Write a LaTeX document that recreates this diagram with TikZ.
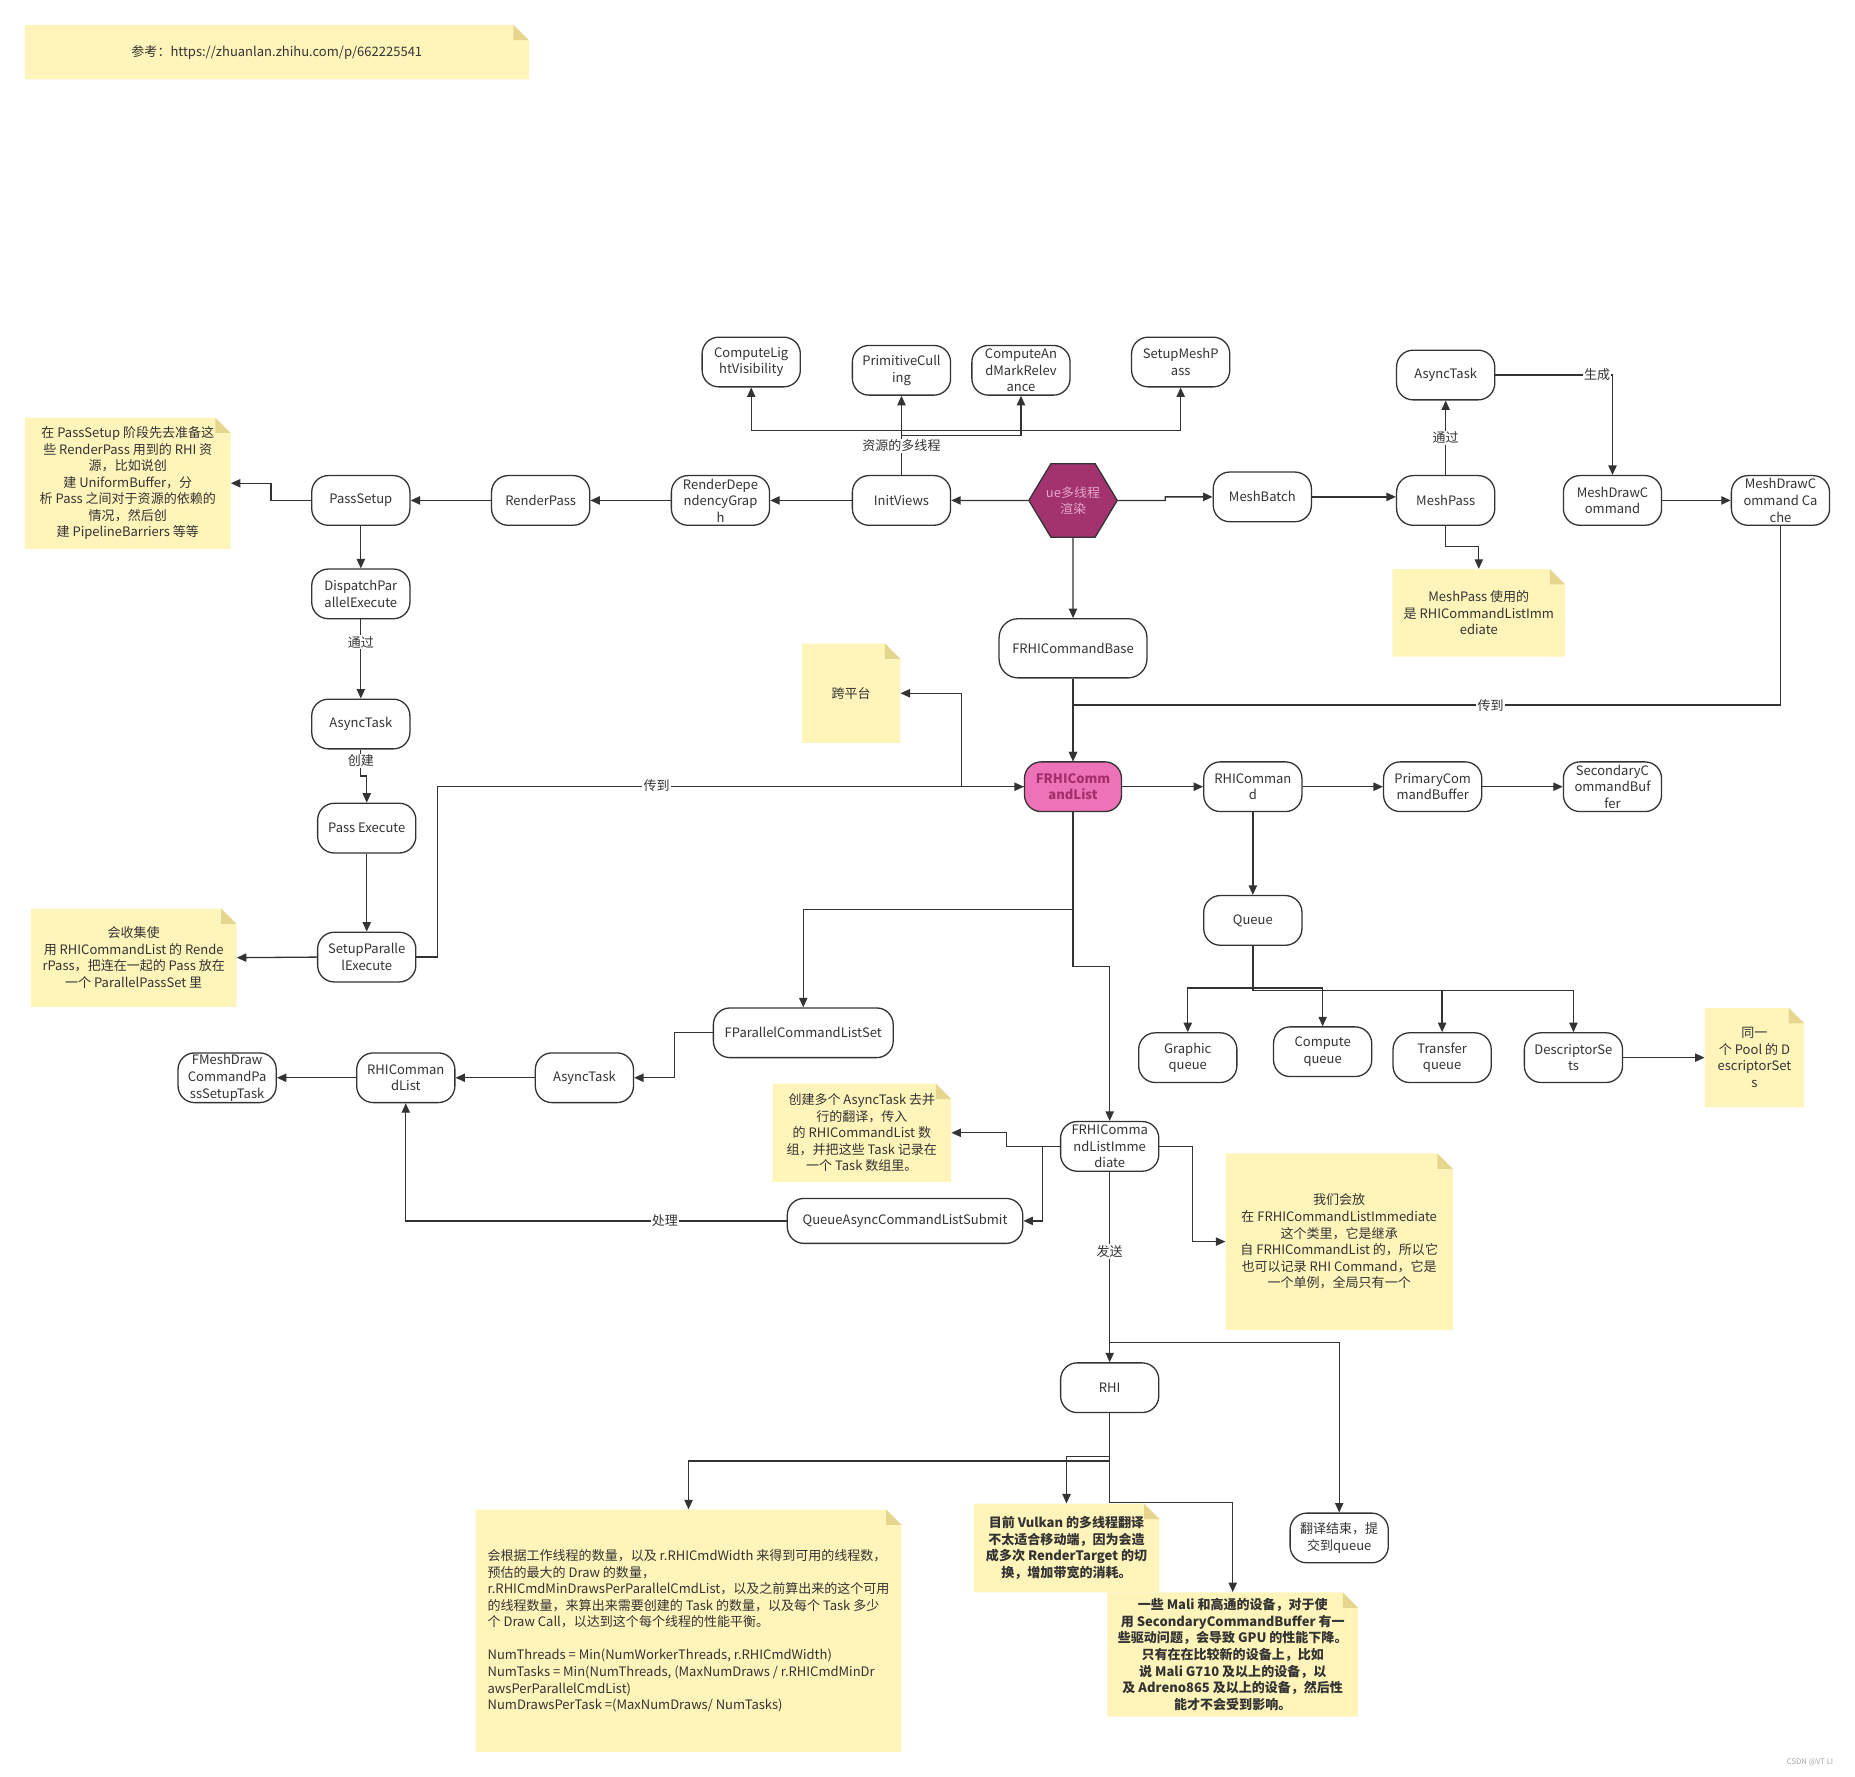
\documentclass[tikz,border=0pt]{standalone}
\usepackage{fontspec}
\setmainfont{Noto Sans CJK SC}
\usetikzlibrary{arrows.meta,shapes.geometric}
\definecolor{linec}{HTML}{333333}
\definecolor{textc}{HTML}{333333}
\definecolor{notefill}{HTML}{FFF5BA}
\definecolor{notefold}{HTML}{E6D58F}
\definecolor{hexfill}{HTML}{A2336F}
\definecolor{hextext}{HTML}{E2A6CB}
\definecolor{pinkfill}{HTML}{EE72B8}
\definecolor{pinktext}{HTML}{A3306D}
\newcommand{\nf}{\fontsize{11}{14}\selectfont}
\newcommand{\mknote}[7][]{%
  \fill[notefill] (#3,#4) -- ({#5-13},#4) -- (#5,{#4+13}) -- (#5,#6) -- (#3,#6) -- cycle;
  \fill[notefold] ({#5-13},#4) -- ({#5-13},{#4+13}) -- (#5,{#4+13}) -- cycle;
  \node[notetext,minimum width={#5-#3},minimum height={#6-#4},#1] (#2) at ({(#3+#5)/2},{(#4+#6)/2}) {#7};
}
\begin{document}
\begin{tikzpicture}[x=1pt,y=-1pt,
  box/.style={rectangle,rounded corners=14pt,draw=linec,line width=1.1pt,fill=white,minimum width=83pt,minimum height=42pt,inner sep=1pt,align=center,text=textc,font=\nf},
  notetext/.style={inner sep=0pt,align=center,text=textc,font=\nf},
  link/.style={draw=linec,line width=1.1pt,-{Triangle[length=8pt,width=7pt]}},
  lbl/.style={fill=white,inner sep=1pt,text=textc,font=\nf}]
\fill[white] (0,0) rectangle (1568,1502);
\useasboundingbox (0,0) rectangle (1568,1502);

% notes
\mknote{nref}{21}{21}{447}{67}{参考：https://zhuanlan.zhihu.com/p/662225541}
\mknote{nA}{21}{353}{195}{464}{在 PassSetup 阶段先去准备这\\些 RenderPass 用到的 RHI 资\\源，比如说创\\建 UniformBuffer，分\\析 Pass 之间对于资源的依赖的\\情况，然后创\\建 PipelineBarriers 等等}
\mknote{nMP}{1177}{481}{1323}{555}{MeshPass 使用的\\是 RHICommandListImm\\ediate}
\mknote{nK}{678}{544}{761}{628}{跨平台}
\mknote{nPool}{1441}{852}{1525}{936}{同一\\个 Pool 的 D\\escriptorSet\\s}
\mknote{nC}{26}{768}{200}{851}{会收集使\\用 RHICommandList 的 Rende\\rPass，把连在一起的 Pass 放在\\一个 ParallelPassSet 里}
\mknote{nCreate}{653}{916}{804}{999}{创建多个 AsyncTask 去并\\行的翻译，传入\\的 RHICommandList 数\\组，并把这些 Task 记录在\\一个 Task 数组里。}
\mknote{nWe}{1036}{975}{1228}{1124}{我们会放\\在 FRHICommandListImmediate\\这个类里，它是继承\\自 FRHICommandList 的，所以它\\也可以记录 RHI Command，它是\\一个单例，全局只有一个}
\mknote[align=left]{nBig}{402}{1276}{762}{1481}{会根据工作线程的数量，以及 r.RHICmdWidth 来得到可用的线程数，\\预估的最大的 Draw 的数量，\\r.RHICmdMinDrawsPerParallelCmdList，以及之前算出来的这个可用\\的线程数量，来算出来需要创建的 Task 的数量，以及每个 Task 多少\\个 Draw Call，以达到这个每个线程的性能平衡。\\[14pt]NumThreads = Min(NumWorkerThreads, r.RHICmdWidth)\\NumTasks = Min(NumThreads, (MaxNumDraws / r.RHICmdMinDr\\awsPerParallelCmdList)\\NumDrawsPerTask =(MaxNumDraws/ NumTasks)}
\mknote[font=\nf\bfseries]{nV}{823}{1271}{980}{1346}{目前 Vulkan 的多线程翻译\\不太适合移动端，因为会造\\成多次 RenderTarget 的切\\换，增加带宽的消耗。}
\mknote[font=\nf\bfseries]{nM}{936}{1346}{1148}{1451}{一些 Mali 和高通的设备，对于使\\用 SecondaryCommandBuffer 有一\\些驱动问题，会导致 GPU 的性能下降。\\只有在在比较新的设备上，比如\\说 Mali G710 及以上的设备，以\\及 Adreno865 及以上的设备，然后性\\能才不会受到影响。}

% top row
\node[box] (cl) at (635,306) {ComputeLig\\htVisibility};
\node[box] (pc) at (762,313) {PrimitiveCull\\ing};
\node[box] (cm) at (863,313) {ComputeAn\\dMarkRelev\\ance};
\node[box] (sm) at (998,306) {SetupMeshP\\ass};
\node[box] (at1) at (1222,317) {AsyncTask};
% middle row
\node[box] (ps) at (305,423) {PassSetup};
\node[box] (rp) at (457,423) {RenderPass};
\node[box] (rdg) at (609,423) {RenderDepe\\ndencyGrap\\h};
\node[box] (iv) at (762,423) {InitViews};
\node[regular polygon,regular polygon sides=6,minimum size=71pt,inner sep=0pt,yscale=0.96,fill=hexfill,draw=linec,line width=1.1pt,text=hextext,font=\nf,align=center] (hex) at (907,423) {ue多线程\\渲染};
\node[box] (mb) at (1067,420) {MeshBatch};
\node[box] (mp) at (1222,423) {MeshPass};
\node[box] (mdc) at (1363,423) {MeshDrawC\\ommand};
\node[box] (mdcc) at (1505,423) {MeshDrawC\\ommand Ca\\che};
% left column
\node[box] (dpe) at (305,502) {DispatchPar\\allelExecute};
\node[box] (at2) at (305,612) {AsyncTask};
\node[box] (pe) at (310,700) {Pass Execute};
\node[box] (spe) at (310,809) {SetupParalle\\lExecute};
% centre
\node[box,minimum width=125pt,minimum height=50pt,rounded corners=16pt] (fcb) at (907,548) {FRHICommandBase};
\node[box,minimum width=82pt,fill=pinkfill,text=pinktext,font=\nf\bfseries] (fcl) at (907,665) {FRHIComm\\andList};
\node[box] (rc) at (1059,665) {RHIComman\\d};
\node[box] (pcb) at (1211,665) {PrimaryCom\\mandBuffer};
\node[box] (scb) at (1363,665) {SecondaryC\\ommandBuf\\fer};
\node[box] (q) at (1059,778) {Queue};
\node[box] (gq) at (1004,894) {Graphic\\queue};
\node[box] (cq) at (1118,889) {Compute\\queue};
\node[box] (tq) at (1219,894) {Transfer\\queue};
\node[box] (ds) at (1330,894) {DescriptorSe\\ts};
% lower
\node[box,minimum width=152pt] (fpcs) at (679,873) {FParallelCommandListSet};
\node[box] (at3) at (494,911) {AsyncTask};
\node[box] (rcl) at (343,911) {RHIComman\\dList};
\node[box] (fmd) at (192,911) {FMeshDraw\\CommandPa\\ssSetupTask};
\node[box] (fcli) at (938,969) {FRHIComma\\ndListImme\\diate};
\node[box,minimum width=199pt,minimum height=38pt] (qacs) at (765,1032) {QueueAsyncCommandListSubmit};
\node[box] (rhi) at (938,1173) {RHI};
\node[box] (fin) at (1132,1300) {翻译结束，提\\交到queue};

% connectors
\draw[link] (hex.west) -- (iv.east);
\draw[link] (iv.west) -- (rdg.east);
\draw[link] (rdg.west) -- (rp.east);
\draw[link] (rp.west) -- (ps.east);
\draw[link] (ps.west) -- ++(-34,0) |- (nA.east);
\draw[link] (iv.north) -- (762,364) -| (cl.south);
\draw[link] (iv.north) -- (pc.south);
\draw[link] (iv.north) -- (762,368) -| (cm.south);
\draw[link] (iv.north) -- (762,364) -| (sm.south);
\draw[link] (hex.east) -- (985,423) -- (985,420) -- (mb.west);
\draw[link] (mb.east) -- (mb.east -| mp.west);
\draw[link] (mp.north) -- (at1.south);
\draw[link] (at1.east) -| (mdc.north);
\draw[link] (mdc.east) -- (mdcc.west);
\draw[link] (mp.south) -- (1222,462) -| (nMP.north);
\draw[link] (hex.south) -- (fcb.north);
\draw[link] (fcb.south) -- (fcl.north);
\draw[link] (mdcc.south) |- (907,596) -- (fcl.north);
\draw[link] (fcl.west) -- (813,665) -- (813,586) -- (nK.east);
\draw[link] (spe.east) -- (370,809) |- (fcl.west);
\draw[link] (fcl.east) -- (rc.west);
\draw[link] (rc.east) -- (pcb.west);
\draw[link] (pcb.east) -- (scb.west);
\draw[link] (rc.south) -- (q.north);
\draw[link] (q.south) -- (1059,835) -| (gq.north);
\draw[link] (q.south) -- (1059,835) -| (cq.north);
\draw[link] (q.south) -- (1059,837) -| (tq.north);
\draw[link] (q.south) -- (1059,837) -| (ds.north);
\draw[link] (ds.east) -- (nPool.west);
\draw[link] (fcl.south) -- (907,769) -| (fpcs.north);
\draw[link] (fcl.south) -- (907,817) -| (fcli.north);
\draw[link] (fpcs.west) -- (570,873) |- (at3.east);
\draw[link] (at3.west) -- (rcl.east);
\draw[link] (rcl.west) -- (fmd.east);
\draw[link] (fcli.west) -- (851,969) |- (nCreate.east);
\draw[link] (fcli.west) -- (881,969) |- (qacs.east);
\draw[link] (qacs.west) -| (rcl.south);
\draw[link] (fcli.east) -- (1008,969) |- (nWe.west);
\draw[link] (fcli.south) -- (rhi.north);
\draw[link] (fcli.south) -- (938,1135) -| (fin.north);
\draw[link] (rhi.south) -- (938,1235) -| (nBig.north);
\draw[link] (rhi.south) -- (938,1231) -| (nV.north);
\draw[link] (rhi.south) -- (938,1270) -| (nM.north);
\draw[link] (ps.south) -- (dpe.north);
\draw[link] (dpe.south) -- (at2.north);
\draw[link] (at2.south) -- (305,656) -| (pe.north);
\draw[link] (pe.south) -- (spe.north);
\draw[link] (spe.west) -- (nC.east);

% labels
\node[lbl] (l1) at (762,377) {资源的多线程};
\node[lbl] (l2) at (1222,370) {通过};
\node[lbl] (l3) at (1350,317) {生成};
\node[lbl] (l4) at (1260,596) {传到};
\node[lbl] (l5) at (555,664) {传到};
\node[lbl] (l6) at (305,543) {通过};
\node[lbl] (l7) at (305,643) {创建};
\node[lbl] (l8) at (562,1032) {处理};
\node[lbl] (l9) at (938,1058) {发送};
\node[text=gray!70,font=\fontsize{6.5}{8}\selectfont] (wm) at (1530,1490) {CSDN @VT LI};
\end{tikzpicture}
\end{document}
